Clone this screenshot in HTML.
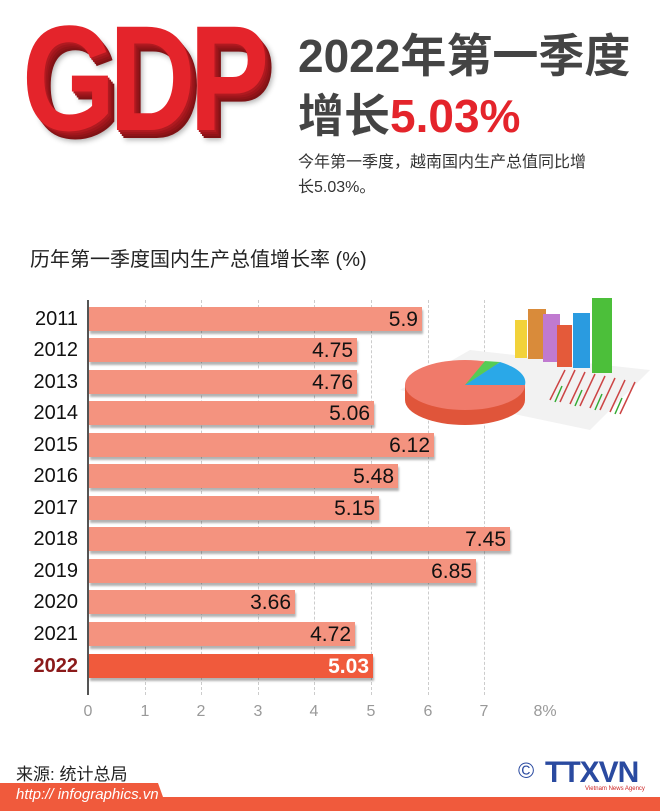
<!DOCTYPE html>
<html><head><meta charset="utf-8"><style>
*{margin:0;padding:0}
body{width:660px;height:811px;background:#fff;position:relative;overflow:hidden;font-family:"Liberation Sans","Noto Sans CJK SC",sans-serif}
.a{position:absolute;white-space:nowrap}
.gdp{left:22px;top:-8px;font-family:"Liberation Sans",sans-serif;font-weight:bold;font-size:150px;color:#e4242b;letter-spacing:-8px;transform:scaleX(0.8);transform-origin:left top;text-shadow:2px 2px 0 #b01a20,4px 4px 0 #a0161c,6px 6px 0 #901418,8px 8px 0 #801215,10px 10px 6px rgba(0,0,0,.3)}
.t1{left:298px;top:20px;font-size:46px;font-weight:bold;color:#444;letter-spacing:0px}
.t2{left:298px;top:80px;font-size:46px;font-weight:bold;color:#444}
.t2 b{color:#e4242b}
.sub{left:298px;top:150px;font-size:16px;color:#333;line-height:25px}
.ct{left:30px;top:243px;font-size:20px;color:#222}
.yr{position:absolute;left:0;width:78px;text-align:right;font-size:20px;color:#111;height:24px;line-height:24px}
.bar{position:absolute;left:89px;height:24px;background:#f4937f;box-shadow:1px 3px 2px rgba(0,0,0,.3);text-align:right;font-size:21px;line-height:25px;color:#111;box-sizing:border-box;padding-right:4px}
.grid{position:absolute;top:300px;height:395px;border-left:1px dashed #ccc}
.tk{position:absolute;top:703px;font-size:16px;color:#999;width:40px;text-align:center}
</style></head><body>
<div class="a gdp">GDP</div>
<div class="a t1">2022年第一季度</div>
<div class="a t2">增长<b>5.03%</b></div>
<div class="a sub">今年第一季度，越南国内生产总值同比增<br>长5.03%。</div>
<div class="a ct">历年第一季度国内生产总值增长率 (%)</div>

<div class="grid" style="left:145px"></div><div class="grid" style="left:201px"></div><div class="grid" style="left:258px"></div><div class="grid" style="left:314px"></div><div class="grid" style="left:371px"></div><div class="grid" style="left:428px"></div><div class="grid" style="left:484px"></div>
<div style="position:absolute;left:87px;top:300px;width:2px;height:395px;background:#555"></div>

<svg style="position:absolute;left:390px;top:290px" width="270" height="150">
<polygon points="10,100 80,60 260,80 200,140" fill="#f2f2f2"/>
<g stroke="#c44" stroke-width="1.5"><line x1="160" y1="110" x2="175" y2="80"/><line x1="170" y1="112" x2="185" y2="80"/><line x1="180" y1="114" x2="195" y2="82"/><line x1="190" y1="116" x2="205" y2="84"/><line x1="200" y1="118" x2="215" y2="86"/><line x1="210" y1="120" x2="225" y2="88"/><line x1="220" y1="122" x2="235" y2="90"/><line x1="230" y1="124" x2="245" y2="92"/></g>
<g stroke="#3a3" stroke-width="1.5"><line x1="165" y1="112" x2="172" y2="96"/><line x1="185" y1="116" x2="192" y2="100"/><line x1="205" y1="120" x2="212" y2="104"/><line x1="225" y1="124" x2="232" y2="108"/></g>
<rect x="125" y="30" width="12" height="38" fill="#f2d23a"/>
<rect x="138" y="19" width="18" height="50" fill="#d98b3a"/>
<rect x="153" y="24" width="17" height="48" fill="#c07ad0"/>
<rect x="167" y="35" width="15" height="42" fill="#e45a3a"/>
<rect x="183" y="23" width="17" height="55" fill="#2a9be0"/>
<rect x="202" y="8" width="20" height="75" fill="#4cbf3a"/>
<ellipse cx="75" cy="110" rx="60" ry="25" fill="#e0553a"/>
<rect x="15" y="95" width="120" height="15" fill="#e0553a"/>
<ellipse cx="75" cy="95" rx="60" ry="25" fill="#f07a6a"/>
<path d="M75,95 L110,72 A60,25 0 0 1 135,95 Z" fill="#2aa8e8"/>
<path d="M75,95 L95,71 L110,72 Z" fill="#5c5"/>
</svg>

<div class="yr" style="top:307px">2011</div><div class="bar" style="top:307px;width:333px">5.9</div>
<div class="yr" style="top:338px">2012</div><div class="bar" style="top:338px;width:268px">4.75</div>
<div class="yr" style="top:370px">2013</div><div class="bar" style="top:370px;width:268px">4.76</div>
<div class="yr" style="top:401px">2014</div><div class="bar" style="top:401px;width:285px">5.06</div>
<div class="yr" style="top:433px">2015</div><div class="bar" style="top:433px;width:345px">6.12</div>
<div class="yr" style="top:464px">2016</div><div class="bar" style="top:464px;width:309px">5.48</div>
<div class="yr" style="top:496px">2017</div><div class="bar" style="top:496px;width:290px">5.15</div>
<div class="yr" style="top:527px">2018</div><div class="bar" style="top:527px;width:421px">7.45</div>
<div class="yr" style="top:559px">2019</div><div class="bar" style="top:559px;width:387px">6.85</div>
<div class="yr" style="top:590px">2020</div><div class="bar" style="top:590px;width:206px">3.66</div>
<div class="yr" style="top:622px">2021</div><div class="bar" style="top:622px;width:266px">4.72</div>
<div class="yr" style="top:654px;color:#8b1a1a;font-weight:bold">2022</div><div class="bar" style="top:654px;width:284px;background:#f05a3c;color:#fff;font-weight:bold">5.03</div>

<div class="tk" style="left:68px">0</div><div class="tk" style="left:125px">1</div><div class="tk" style="left:181px">2</div><div class="tk" style="left:238px">3</div><div class="tk" style="left:294px">4</div><div class="tk" style="left:351px">5</div><div class="tk" style="left:408px">6</div><div class="tk" style="left:464px">7</div><div class="tk" style="left:525px">8%</div>

<div class="a" style="left:16px;top:760px;font-size:17px;color:#222">来源: 统计总局</div>
<div class="a" style="left:518px;top:758px;font-size:22px;color:#2a4aa0">©</div>
<div class="a" style="left:545px;top:756px;font-size:30px;font-weight:bold;color:#2a4aa0;letter-spacing:-1px">TTXVN</div>
<div class="a" style="left:585px;top:786px;font-size:6px;color:#c22">Vietnam News Agency</div>
<div style="position:absolute;left:0;top:797px;width:660px;height:14px;background:#f05a3c"></div>
<div style="position:absolute;left:0;top:783px;width:168px;height:28px;background:#f05a3c;clip-path:polygon(0 0,158px 0,168px 100%,0 100%)"></div>
<div class="a" style="left:16px;top:786px;font-size:15px;font-style:italic;color:#fff">http:// infographics.vn</div>
</body></html>
